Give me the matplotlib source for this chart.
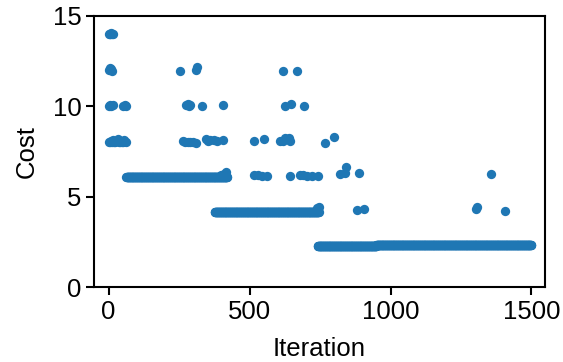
import numpy as np
import matplotlib
matplotlib.use("Agg")
import matplotlib.pyplot as plt

plt.rcParams['font.family'] = ['Liberation Sans', 'DejaVu Sans']
plt.rcParams['font.size'] = 18.5

# plateau runs of the cost: (first iteration, last iteration, cost)
run_start = [63, 377, 742, 950]
run_stop = [420, 745, 950, 1499]
run_cost = [6.10, 4.15, 2.28, 2.34]

# scattered evaluations away from the plateau
out_iter = [0, 3, 6, 9, 12, 15,
            0, 4, 8, 12,
            0, 5, 10, 14, 52, 58, 62,
            0, 4, 8, 12, 16, 20, 24, 28, 32, 36, 40, 44, 48, 52, 56, 60,
            253, 310, 312, 619, 669,
            275, 280, 285, 290, 330, 405, 625, 646, 693,
            262, 270, 280, 290, 300, 310, 345, 352, 360, 375, 385, 405,
            516, 551, 607, 617, 625, 640, 645, 768, 800,
            400, 410, 418,
            516, 530, 545, 560, 643, 678, 690, 705, 720, 744,
            820, 838, 843, 889, 1357,
            740, 745, 881, 905, 1305, 1307, 1405]
out_cost = [14.0, 14.02, 14.0, 14.03, 14.0, 14.01,
            12.0, 12.1, 12.05, 11.98,
            10.0, 10.08, 10.02, 10.05, 10.03, 10.06, 10.02,
            8.0, 8.05, 8.1, 8.02, 8.15, 8.0, 8.05, 8.08, 8.2, 8.05, 8.0, 8.1, 8.05, 8.0, 8.12, 8.05,
            11.93, 12.0, 12.15, 11.93, 11.97,
            10.05, 10.1, 10.0, 10.05, 10.02, 10.08, 10.0, 10.1, 10.04,
            8.1, 8.05, 8.03, 8.05, 8.02, 7.98, 8.2, 8.1, 8.15, 8.12, 8.1, 8.15,
            8.1, 8.2, 8.1, 8.08, 8.22, 8.25, 8.1, 7.98, 8.29,
            6.2, 6.25, 6.35,
            6.18, 6.2, 6.12, 6.12, 6.14, 6.2, 6.18, 6.15, 6.12, 6.15,
            6.27, 6.3, 6.62, 6.3, 6.27,
            4.35, 4.43, 4.28, 4.34, 4.3, 4.45, 4.19]

iters = list(out_iter)
costs = list(out_cost)
for a, b, c in zip(run_start, run_stop, run_cost):
    n = np.arange(a, b + 1)
    iters.extend(n)
    costs.extend([c] * len(n))

fig = plt.figure(figsize=(5.63, 3.62), dpi=100)
ax = fig.add_axes([0.167, 0.207, 0.801, 0.749])
ax.scatter(iters, costs, s=45, color='#1f77b4', linewidths=0)

ax.set_xlim(-52, 1548)
ax.set_ylim(0, 15)
ax.set_xticks([0, 500, 1000, 1500])
ax.set_yticks([0, 5, 10, 15])
ax.set_xlabel('Iteration', labelpad=10)
ax.set_ylabel('Cost', labelpad=10)
for s in ax.spines.values():
    s.set_linewidth(1.5)
ax.tick_params(width=1.5, length=5.5)

fig.savefig('out.png', dpi=100)
